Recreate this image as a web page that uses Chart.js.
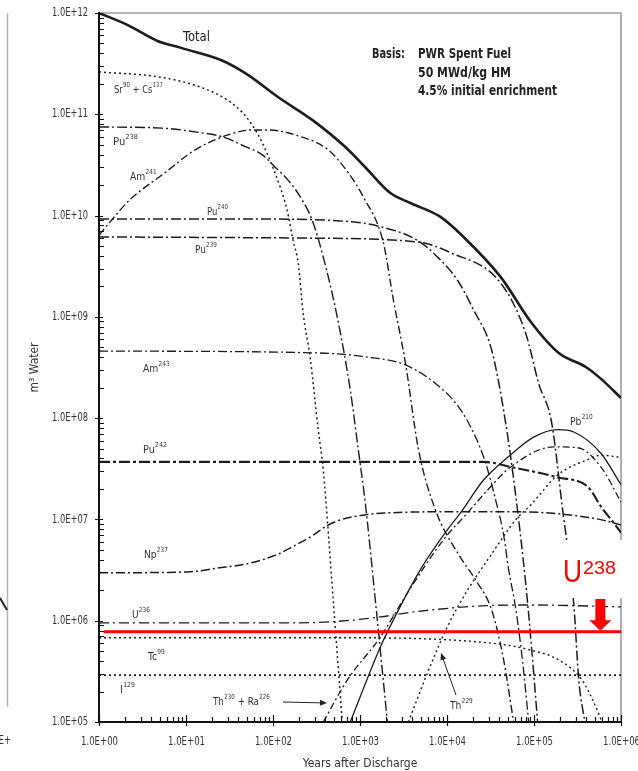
<!DOCTYPE html>
<html>
<head>
<meta charset="utf-8">
<title>PWR spent fuel - m3 water vs years after discharge</title>
<script src="https://cdn.jsdelivr.net/npm/chart.js@4.4.1/dist/chart.umd.min.js"></script>
<style>
  html, body { margin: 0; padding: 0; background: #ffffff; }
  #box { position: relative; width: 638px; height: 771px; }
</style>
</head>
<body>
<div id="box"><canvas id="chart" width="638" height="771"></canvas></div>
<script>
// ---- Data: years after discharge / m3 water, one pair of arrays per nuclide ----
const totalYears = [1, 2.14, 4.7, 8.97, 26, 52, 114, 282, 678, 1150, 2235, 3800, 8420, 15500, 41300, 94000, 192500, 394500, 603000, 1000000];
const totalWater = [1.0e12, 7.6e11, 5.3e11, 4.5e11, 3.4e11, 2.44e11, 1.48e11, 8.8e10, 4.75e10, 3.0e10, 1.67e10, 1.33e10, 9.7e9, 6.15e9, 2.48e9, 8.7e8, 4.4e8, 3.2e8, 2.4e8, 1.58e8];

const srCsYears = [1, 5, 14.5, 30, 45, 66, 85, 121, 145, 170, 195, 222, 267, 331, 378, 492, 625];
const srCsWater = [2.62e11, 2.33e11, 1.86e11, 1.38e11, 1.03e11, 6.5e10, 4.15e10, 1.91e10, 1.14e10, 5.7e9, 3.4e9, 1.09e9, 4.0e8, 7.7e7, 3.1e7, 1.6e6, 1.0e5];

const pu238Years = [1, 5.3, 12.7, 26, 48, 75, 106, 149, 216, 282, 378, 547, 773, 955, 1150, 1500, 2065];
const pu238Water = [7.5e10, 7.3e10, 6.7e10, 6.0e10, 4.8e10, 4.0e10, 3.0e10, 2.24e10, 1.43e10, 9.0e9, 3.9e9, 1.0e9, 1.9e8, 4.9e7, 1.46e7, 1.6e6, 1.0e5];

const am241Years = [1, 1.33, 2.26, 5.7, 12.7, 30.4, 57, 88, 180, 431, 734, 1092, 1855, 2420, 3330, 4700, 7370, 13600, 21300, 32600, 44800, 58300];
const am241Water = [6.4e9, 8.6e9, 1.43e10, 2.64e10, 4.45e10, 6.25e10, 7.0e10, 7.0e10, 6.25e10, 4.45e10, 2.64e10, 1.53e10, 5.4e9, 1.47e9, 3.5e8, 4.9e7, 1.24e7, 4.5e6, 2.53e6, 1.28e6, 4.1e5, 1.0e5];

const pu240Years = [1, 54, 593, 1583, 4570, 7780, 13200, 20200, 32600, 47200, 61500, 80200, 94000, 110000];
const pu240Water = [9.25e9, 9.25e9, 8.85e9, 7.9e9, 5.7e9, 3.9e9, 2.3e9, 1.17e9, 4.7e8, 9.0e7, 1.75e7, 2.36e6, 5.3e5, 1.0e5];

const pu239Years = [1, 205, 4570, 11000, 41300, 80200, 113200, 159700, 208500, 287000, 327000, 384000];
const pu239Water = [6.15e9, 6.0e9, 5.5e9, 4.3e9, 2.16e9, 6.9e8, 2.2e8, 9.0e7, 1.46e7, 1.43e6, 2.6e5, 1.0e5];

const am243Years = [1, 331, 1247, 3330, 7370, 13600, 21300, 27800, 36200, 44800, 51100, 61500, 74100, 86900];
const am243Water = [4.6e8, 4.4e8, 4.0e8, 3.35e8, 2.2e8, 1.29e8, 6.5e7, 3.6e7, 1.56e7, 7.0e6, 3.2e6, 1.34e6, 3.9e5, 1.0e5];

const pu242Years = [1, 26300, 54000, 187500, 416000, 603000, 828000, 1000000];
const pu242Water = [3.7e7, 3.7e7, 3.3e7, 2.6e7, 2.1e7, 1.3e7, 9.2e6, 7.4e6];

const np237Years = [1, 10.3, 22.7, 54, 111, 205, 290, 420, 620, 1250, 2065, 10100, 58300, 208500, 603000, 1000000];
const np237Water = [2.97e6, 3.03e6, 3.3e6, 3.7e6, 4.5e6, 5.9e6, 7.0e6, 8.7e6, 1.0e7, 1.12e7, 1.16e7, 1.19e7, 1.19e7, 1.13e7, 9.9e6, 8.8e6];

const u236Years = [1, 121, 500, 1713, 4110, 24300, 91600, 1000000];
const u236Water = [9.5e5, 9.5e5, 9.8e5, 1.09e6, 1.22e6, 1.40e6, 1.43e6, 1.37e6];

const tc99Years = [1, 455, 32600, 94000, 192500, 355000, 514000, 603000];
const tc99Water = [6.8e5, 6.8e5, 6.0e5, 5.1e5, 4.1e5, 2.6e5, 1.41e5, 1.0e5];

const i129Years = [1, 1000000];
const i129Water = [2.9e5, 2.9e5];

const thRaYears = [378, 715, 1713, 3510, 9110, 17200, 29300, 54000, 168500, 319000, 587000, 1000000];
const thRaWater = [1.0e5, 2.6e5, 6.9e5, 1.88e6, 6.3e6, 1.16e7, 1.95e7, 3.3e7, 5.2e7, 5.1e7, 3.3e7, 1.49e7];

const pb210Years = [773, 1713, 2420, 4950, 10100, 14300, 26300, 49800, 99100, 187500, 287000, 587000, 1000000];
const pb210Water = [1.0e5, 5.5e5, 1.02e6, 3.2e6, 7.9e6, 1.16e7, 2.45e7, 4.1e7, 6.5e7, 7.7e7, 7.3e7, 4.5e7, 2.2e7];

const th229Years = [3600, 5960, 10100, 17200, 31700, 61500, 91600, 187500, 416000, 587000, 1000000];
const th229Water = [1.0e5, 3.05e5, 8.7e5, 2.0e6, 4.4e6, 9.9e6, 1.39e7, 2.75e7, 3.9e7, 4.3e7, 4.1e7];

// U238 reference level
const u238Years = [1.13, 1000000];
const u238Water = [7.8e5, 7.8e5];
const u238ArrowYear = 5.79e5;

// Axis ticks
const xTickValues = [1, 10, 100, 1e3, 1e4, 1e5, 1e6];
const xTickLabels = ['1.0E+00', '1.0E+01', '1.0E+02', '1.0E+03', '1.0E+04', '1.0E+05', '1.0E+06'];
const yTickValues = [1e5, 1e6, 1e7, 1e8, 1e9, 1e10, 1e11, 1e12];
const yTickLabels = ['1.0E+05', '1.0E+06', '1.0E+07', '1.0E+08', '1.0E+09', '1.0E+10', '1.0E+11', '1.0E+12'];

// ---- Styling ----
const FONT = "'Liberation Sans Narrow', 'DejaVu Sans Condensed', 'Liberation Sans', sans-serif";
const INK = '#1c1c1c';
const TEXT = '#333333';
const RED = '#ff0000';
const DOT = [2, 3];
const DASHDOT = [10, 3, 2, 3];

function pts(xs, ys) { return xs.map((x, i) => ({ x: x, y: ys[i] })); }
function curve(label, xs, ys, dash, width, color) {
  return {
    label: label,
    data: pts(xs, ys),
    borderColor: color || INK,
    borderWidth: width || 1.3,
    borderDash: dash || [],
    pointRadius: 0,
    fill: false,
    cubicInterpolationMode: 'monotone',
    clip: 0
  };
}

const datasets = [
  Object.assign(curve('U238', u238Years, u238Water, [], 3, RED), { cubicInterpolationMode: 'default', tension: 0 }),
  curve('Total', totalYears, totalWater, [], 2.6),
  curve('Sr90 + Cs137', srCsYears, srCsWater, DOT, 1.5),
  curve('Pu238', pu238Years, pu238Water, DASHDOT, 1.4),
  curve('Am241', am241Years, am241Water, [8, 3, 2, 3], 1.4),
  curve('Pu240', pu240Years, pu240Water, DASHDOT, 1.5),
  curve('Pu239', pu239Years, pu239Water, DASHDOT, 1.5),
  curve('Am243', am243Years, am243Water, [9, 3, 2, 3], 1.3),
  curve('Pu242', pu242Years, pu242Water, [11, 3, 3, 3], 2.1),
  curve('Np237', np237Years, np237Water, [9, 3, 2, 3], 1.5),
  curve('U236', u236Years, u236Water, [10, 4, 2, 4], 1.3),
  curve('Tc99', tc99Years, tc99Water, DOT, 1.4),
  curve('I129', i129Years, i129Water, [2, 3], 1.6),
  curve('Th230 + Ra226', thRaYears, thRaWater, [7, 3, 2, 3], 1.3),
  curve('Pb210', pb210Years, pb210Water, [], 1.3),
  curve('Th229', th229Years, th229Water, DOT, 1.4)
];

// Nuclide name labels: [base, superscript] pairs
const isoLabels = [
  { parts: [['Sr', '90'], [' + Cs', '137']], x: 114, y: 90, w: 49 },
  { parts: [['Pu', '238']], x: 113, y: 142, w: 25 },
  { parts: [['Am', '241']], x: 130, y: 177, w: 27 },
  { parts: [['Pu', '240']], x: 207, y: 212, w: 21 },
  { parts: [['Pu', '239']], x: 195, y: 250, w: 22 },
  { parts: [['Am', '243']], x: 143, y: 369, w: 27 },
  { parts: [['Pu', '242']], x: 143, y: 450, w: 24 },
  { parts: [['Np', '237']], x: 144, y: 555, w: 24 },
  { parts: [['U', '236']], x: 132, y: 615, w: 18 },
  { parts: [['Tc', '99']], x: 148, y: 657, w: 17 },
  { parts: [['I', '129']], x: 120, y: 690, w: 15 },
  { parts: [['Th', '230'], [' + Ra', '226']], x: 213, y: 702, w: 57 },
  { parts: [['Th', '229']], x: 450, y: 706, w: 23 },
  { parts: [['Pb', '210']], x: 570, y: 422, w: 23 }
];

// draws text squeezed/stretched to a given width, starting at x
function fitText(ctx, text, x, y, width) {
  const m = ctx.measureText(text).width;
  ctx.save();
  ctx.translate(x, y);
  ctx.scale(width / m, 1);
  ctx.fillText(text, 0, 0);
  ctx.restore();
}

function drawIso(ctx, item) {
  const base = '11px ' + FONT, sup = '7px ' + FONT;
  let total = 0;
  const widths = item.parts.map(p => {
    ctx.font = base; const a = ctx.measureText(p[0]).width;
    ctx.font = sup; const b = ctx.measureText(p[1]).width + 0.5;
    total += a + b; return [a, b];
  });
  ctx.save();
  ctx.translate(item.x, item.y);
  ctx.scale(item.w / total, 1);
  ctx.fillStyle = TEXT;
  ctx.textBaseline = 'middle';
  ctx.textAlign = 'left';
  let cx = 0;
  item.parts.forEach((p, i) => {
    ctx.font = base; ctx.fillText(p[0], cx, 0); cx += widths[i][0];
    ctx.font = sup; ctx.fillText(p[1], cx + 0.3, -5); cx += widths[i][1];
  });
  ctx.restore();
}

function arrow(ctx, x1, y1, x2, y2) {
  const ang = Math.atan2(y2 - y1, x2 - x1), L = 7, H = 3;
  ctx.beginPath(); ctx.moveTo(x1, y1); ctx.lineTo(x2 - L * 0.6 * Math.cos(ang), y2 - L * 0.6 * Math.sin(ang)); ctx.stroke();
  ctx.beginPath();
  ctx.moveTo(x2, y2);
  ctx.lineTo(x2 - L * Math.cos(ang) + H * Math.sin(ang), y2 - L * Math.sin(ang) - H * Math.cos(ang));
  ctx.lineTo(x2 - L * Math.cos(ang) - H * Math.sin(ang), y2 - L * Math.sin(ang) + H * Math.cos(ang));
  ctx.closePath(); ctx.fill();
}

const LABEL_W = 36;

const decor = {
  id: 'decor',
  beforeDatasetsDraw(chart) {
    const { ctx, chartArea: a } = chart;
    ctx.save();
    // light frame on the top and right of the plot
    ctx.strokeStyle = '#9d9d9d';
    ctx.lineWidth = 1.6;
    ctx.beginPath();
    ctx.moveTo(a.left, a.top); ctx.lineTo(a.right, a.top); ctx.lineTo(a.right, a.bottom);
    ctx.stroke();
    // edge of the neighbouring panel
    ctx.strokeStyle = '#b4b4b4';
    ctx.lineWidth = 1.5;
    ctx.beginPath(); ctx.moveTo(7.5, 13); ctx.lineTo(7.5, 707); ctx.stroke();
    ctx.strokeStyle = '#222'; ctx.lineWidth = 2;
    ctx.beginPath(); ctx.moveTo(0, 598); ctx.lineTo(7, 610); ctx.stroke();
    ctx.fillStyle = TEXT; ctx.font = '12px ' + FONT; ctx.textAlign = 'left'; ctx.textBaseline = 'middle';
    fitText(ctx, '1.0E+', -15, 741, 26);
    ctx.restore();
  },
  afterDatasetsDraw(chart) {
    const { ctx, chartArea: a, scales: { x, y } } = chart;
    ctx.save();
    // axes
    ctx.strokeStyle = '#111';
    ctx.lineWidth = 2;
    ctx.beginPath();
    ctx.moveTo(a.left, a.top - 1); ctx.lineTo(a.left, a.bottom); ctx.lineTo(a.right + 1, a.bottom);
    ctx.stroke();
    ctx.lineWidth = 1.2;
    ctx.beginPath();
    for (let d = 5; d <= 12; d++) {
      for (let k = 1; k <= 9; k++) {
        const v = k * Math.pow(10, d);
        if (v > 1e12 * 1.0001) break;
        const py = Math.round(y.getPixelForValue(v)) + 0.5;
        if (k === 1) { ctx.moveTo(a.left - 4, py); ctx.lineTo(a.left + 4, py); }
        else { ctx.moveTo(a.left, py); ctx.lineTo(a.left + 5, py); }
      }
    }
    for (let d = 0; d <= 6; d++) {
      for (let k = 1; k <= 9; k++) {
        const v = k * Math.pow(10, d);
        if (v > 1e6 * 1.0001) break;
        const px = Math.round(x.getPixelForValue(v)) + 0.5;
        if (k === 1) { ctx.moveTo(px, a.bottom + 4); ctx.lineTo(px, a.bottom - 7); }
        else { ctx.moveTo(px, a.bottom); ctx.lineTo(px, a.bottom - 5); }
      }
    }
    ctx.stroke();

    // tick labels, condensed
    ctx.fillStyle = TEXT;
    ctx.font = '12px ' + FONT;
    ctx.textBaseline = 'middle';
    ctx.textAlign = 'left';
    yTickValues.forEach((v, i) => {
      fitText(ctx, yTickLabels[i], a.left - 11 - LABEL_W, y.getPixelForValue(v), LABEL_W);
    });
    xTickValues.forEach((v, i) => {
      fitText(ctx, xTickLabels[i], x.getPixelForValue(v) - LABEL_W / 2, a.bottom + 20, LABEL_W + 1);
    });

    // curve labels
    isoLabels.forEach(item => drawIso(ctx, item));

    ctx.fillStyle = '#222';
    ctx.textBaseline = 'middle';
    ctx.textAlign = 'left';
    ctx.font = '14px ' + FONT;
    fitText(ctx, 'Total', 183, 37, 27);

    ctx.font = 'bold 13.5px ' + FONT;
    fitText(ctx, 'Basis:', 372, 54, 33);
    fitText(ctx, 'PWR Spent Fuel', 418, 54, 93);
    fitText(ctx, '50 MWd/kg HM', 418, 73, 93);
    fitText(ctx, '4.5% initial enrichment', 418, 91, 139);

    // pointer arrows
    ctx.strokeStyle = '#222'; ctx.fillStyle = '#222'; ctx.lineWidth = 1;
    arrow(ctx, 283, 702, 327, 703);
    arrow(ctx, 456, 695, 441, 653);

    // U238 annotation on a white patch
    ctx.fillStyle = '#ffffff';
    ctx.fillRect(559, 540, 79, 58);
    const lineY = y.getPixelForValue(u238Water[0]);
    const ax = x.getPixelForValue(u238ArrowYear);
    ctx.fillStyle = RED;
    ctx.fillRect(ax - 5, 599, 10, lineY - 1.5 - 599 - 9);
    ctx.beginPath();
    ctx.moveTo(ax - 11, lineY - 1.5 - 10);
    ctx.lineTo(ax + 11, lineY - 1.5 - 10);
    ctx.lineTo(ax, lineY - 1);
    ctx.closePath(); ctx.fill();
    ctx.textBaseline = 'alphabetic';
    ctx.font = '31px "Liberation Sans", Arial, sans-serif';
    fitText(ctx, 'U', 563, 582, 19);
    ctx.font = '18px "Liberation Sans", Arial, sans-serif';
    fitText(ctx, '238', 583, 574, 33);
    ctx.restore();
  }
};

new Chart(document.getElementById('chart').getContext('2d'), {
  type: 'line',
  data: { datasets: datasets },
  options: {
    responsive: false,
    animation: false,
    devicePixelRatio: 1,
    layout: { padding: { top: 13, right: 17, left: 0, bottom: 0 } },
    plugins: { legend: { display: false }, tooltip: { enabled: false } },
    scales: {
      x: {
        type: 'logarithmic',
        min: 1, max: 1e6,
        afterBuildTicks: s => { s.ticks = xTickValues.map(v => ({ value: v, major: true })); },
        afterFit: s => { s.height = 49; s.paddingLeft = 0; s.paddingRight = 0; },
        grid: { display: false },
        border: { display: false },
        ticks: { display: false },
        title: { display: true, text: 'Years after Discharge', font: { family: FONT, size: 12 }, color: TEXT,
                 padding: { top: 0, bottom: 0 } }
      },
      y: {
        type: 'logarithmic',
        min: 1e5, max: 1e12,
        afterBuildTicks: s => { s.ticks = yTickValues.map(v => ({ value: v, major: true })); },
        afterFit: s => { s.width = 99; s.paddingTop = 0; s.paddingBottom = 0; },
        grid: { display: false },
        border: { display: false },
        ticks: { display: false },
        title: { display: true, text: 'm³ Water', font: { family: FONT, size: 12 }, color: TEXT,
                 padding: { top: 28, bottom: 0 } }
      }
    }
  },
  plugins: [decor]
});
</script>
</body>
</html>
